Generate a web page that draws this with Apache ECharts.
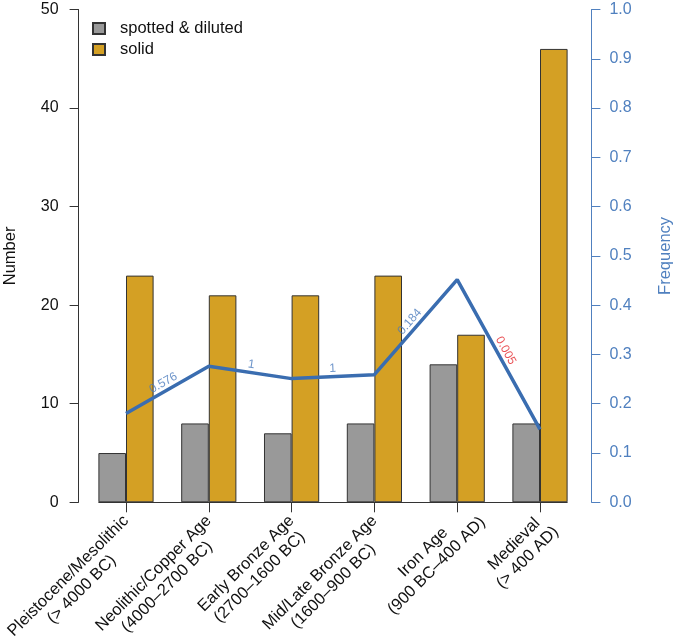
<!DOCTYPE html>
<html>
<head>
<meta charset="utf-8">
<script src="https://cdn.jsdelivr.net/npm/echarts@6/dist/echarts.min.js"></script>
<style>
  html, body { margin: 0; padding: 0; background: #fff; }
  #main { width: 675px; height: 637px; }
</style>
</head>
<body>
<div id="main"></div>
<script>
// periods on the x axis
var periods = [
  'Pleistocene/Mesolithic\n(> 4000 BC)',
  'Neolithic/Copper Age\n(4000–2700 BC)',
  'Early Bronze Age\n(2700–1600 BC)',
  'Mid/Late Bronze Age\n(1600–900 BC)',
  'Iron Age\n(900 BC–400 AD)',
  'Medieval\n(> 400 AD)'
];
// counts
var spotted = [5, 8, 7, 8, 14, 8];
var solid = [23, 21, 21, 23, 17, 46];
// frequency line (right axis)
var freq = [0.18, 0.276, 0.251, 0.259, 0.452, 0.148];
// p values between neighbouring periods
var pvals = ['0.576', '1', '1', '0.184', '0.005'];
var pSignificant = [false, false, false, false, true];

var FONT = '"Liberation Sans", Arial, Helvetica, sans-serif';
var BLUE = '#3A6DB0';
var AXBLUE = '#5080BF';
var XFS = 16.5;

// two-line x labels: second line centred under the first,
// first line ending at the tick
var ctx = document.createElement('canvas').getContext('2d');
ctx.font = XFS + 'px ' + FONT;
var xRich = {};
periods.forEach(function (p, i) {
  var parts = p.split('\n');
  var w1 = ctx.measureText(parts[0]).width;
  var w2 = ctx.measureText(parts[1]).width;
  xRich['l' + i] = {
    width: Math.max(w1, (w1 + w2) / 2),
    align: 'center',
    overflow: 'none',
    fontSize: XFS,
    lineHeight: 19,
    color: '#111',
    fontFamily: FONT
  };
});

var chart = echarts.init(document.getElementById('main'));

var option = {
  animation: false,
  backgroundColor: '#fff',
  textStyle: { fontFamily: FONT },
  grid: { left: 84.6, right: 93.6, top: 9.5, bottom: 134.7, outerBoundsMode: 'none' },
  legend: {
    orient: 'vertical',
    left: 92,
    top: 20,
    padding: 0,
    itemWidth: 12,
    itemHeight: 11,
    itemGap: 4,
    icon: 'rect',
    textStyle: { fontSize: 16.5, color: '#111', fontFamily: FONT, padding: [0, 0, 0, 10] },
    data: ['spotted & diluted', 'solid']
  },
  xAxis: [{
    type: 'category',
    data: periods,
    axisLine: { show: false },
    axisTick: { show: true, alignWithLabel: true, length: 10, lineStyle: { color: '#333' } },
    axisLabel: {
      interval: 0,
      rotate: 45,
      margin: 16,
      align: 'right',
      verticalAlign: 'middle',
      padding: [19, 0, 0, 0],
      color: '#111',
      fontFamily: FONT,
      fontSize: XFS,
      formatter: function (v, i) {
        var p = v.split('\n');
        return '{l' + i + '|' + p[0] + '}\n{l' + i + '|' + p[1] + '}';
      },
      rich: xRich
    }
  }, {
    type: 'value',
    show: false,
    min: -0.5,
    max: 5.5
  }],
  yAxis: [{
    type: 'value',
    position: 'left',
    offset: 6,
    min: 0,
    max: 50,
    interval: 10,
    name: 'Number',
    nameLocation: 'middle',
    nameRotate: 90,
    nameGap: 60,
    nameTextStyle: { fontSize: 16.5, color: '#111', fontFamily: FONT },
    axisLine: { show: true, onZero: false, lineStyle: { color: '#333' } },
    axisTick: { show: true, length: 9, lineStyle: { color: '#333' } },
    axisLabel: { margin: 20, fontSize: 16, color: '#111', fontFamily: FONT },
    splitLine: { show: false }
  }, {
    type: 'value',
    position: 'right',
    offset: 10,
    min: 0,
    max: 1,
    interval: 0.1,
    name: 'Frequency',
    nameLocation: 'middle',
    nameRotate: 90,
    nameGap: 66,
    nameTextStyle: { fontSize: 16.5, color: AXBLUE, fontFamily: FONT },
    axisLine: { show: true, onZero: false, lineStyle: { color: AXBLUE } },
    axisTick: { show: true, length: 9, lineStyle: { color: AXBLUE } },
    axisLabel: {
      margin: 18, fontSize: 16, color: AXBLUE, fontFamily: FONT,
      formatter: function (v) { return v.toFixed(1); }
    },
    splitLine: { show: false }
  }],
  series: [{
    name: 'spotted & diluted',
    type: 'bar',
    data: spotted,
    barGap: '0%',
    barCategoryGap: '33.333%',
    itemStyle: { color: '#999999', borderColor: '#333', borderWidth: 1 }
  }, {
    name: 'solid',
    type: 'bar',
    data: solid,
    barGap: '0%',
    barCategoryGap: '33.333%',
    itemStyle: { color: '#D4A024', borderColor: '#333', borderWidth: 1 }
  }, {
    name: 'freq',
    type: 'line',
    xAxisIndex: 1,
    yAxisIndex: 1,
    data: freq.map(function (f, i) { return [i, f]; }),
    symbol: 'none',
    z: 5,
    lineStyle: { color: BLUE, width: 3.5 },
    // baseline running under the bars, from first to last bar edge
    markLine: {
      silent: true,
      symbol: 'none',
      label: { show: false },
      lineStyle: { color: '#333', width: 1, type: 'solid' },
      data: [[{ coord: [-1 / 3, 0] }, { coord: [freq.length - 1 + 1 / 3, 0] }]]
    }
  }, {
    id: 'pvals',
    type: 'scatter',
    xAxisIndex: 1,
    yAxisIndex: 1,
    symbolSize: 0,
    z: 6,
    data: []
  }]
};

chart.setOption(option);

// rotate p-value labels along each line segment
var px = freq.map(function (f, i) {
  return chart.convertToPixel({ xAxisIndex: 1, yAxisIndex: 1 }, [i, f]);
});
var labelData = pvals.map(function (p, i) {
  var a = px[i], b = px[i + 1];
  var ang = Math.atan2(-(b[1] - a[1]), b[0] - a[0]) * 180 / Math.PI;
  return {
    value: [i + 0.5, (freq[i] + freq[i + 1]) / 2],
    label: {
      show: true,
      position: 'inside',
      formatter: p,
      rotate: ang,
      align: 'center',
      verticalAlign: 'bottom',
      padding: [0, 0, 2, 0],
      fontSize: 12,
      fontFamily: FONT,
      color: pSignificant[i] ? '#E3262B' : '#4A7BBD'
    }
  };
});
chart.setOption({ series: [{ id: 'pvals', data: labelData }] });
</script>
</body>
</html>
